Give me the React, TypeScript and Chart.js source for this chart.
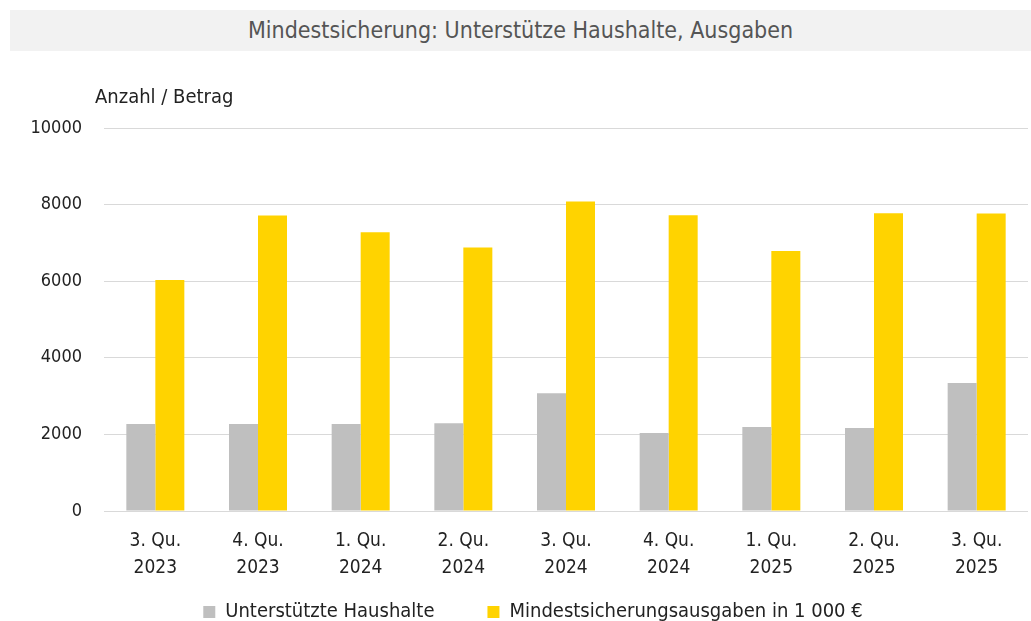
import React, { useEffect, useRef } from "react";
import { Chart, registerables } from "chart.js";

Chart.register(...registerables);

const categories: string[][] = [
  ["3. Qu.", "2023"],
  ["4. Qu.", "2023"],
  ["1. Qu.", "2024"],
  ["2. Qu.", "2024"],
  ["3. Qu.", "2024"],
  ["4. Qu.", "2024"],
  ["1. Qu.", "2025"],
  ["2. Qu.", "2025"],
  ["3. Qu.", "2025"],
];
const haushalte: number[] = [2270, 2270, 2270, 2290, 3075, 2035, 2190, 2165, 3345];
const ausgaben: number[] = [6030, 7715, 7280, 6880, 8080, 7720, 6790, 7775, 7765];
const seriesNames: string[] = ["Unterstützte Haushalte", "Mindestsicherungsausgaben in 1 000 €"];
const titleText = "Mindestsicherung: Unterstütze Haushalte, Ausgaben";
const yAxisTitle = "Anzahl / Betrag";

const FONT = "'DejaVu Sans Condensed', 'Roboto', sans-serif";

const legendShift = {
  id: "legendShift",
  afterLayout(chart: any) {
    const l = chart.legend;
    if (!l) return;
    const h = l.height;
    l.top = 549;
    l.bottom = 549 + h;
    l.left += 19;
    l.right += 19;
  },
};

export default function App() {
  const ref = useRef<HTMLCanvasElement | null>(null);
  useEffect(() => {
    if (!ref.current) return;
    const chart = new Chart(ref.current, {
      type: "bar",
      data: {
        labels: categories,
        datasets: [
          { label: seriesNames[0], data: haushalte, backgroundColor: "#bfbfbf", borderWidth: 0 },
          { label: seriesNames[1], data: ausgaben, backgroundColor: "#ffd300", borderWidth: 0 },
        ],
      },
      plugins: [legendShift],
      options: {
        animation: false,
        responsive: true,
        maintainAspectRatio: false,
        datasets: { bar: { categoryPercentage: 0.565, barPercentage: 1 } },
        layout: { padding: { top: 128, left: 0, right: 3, bottom: 0 } },
        plugins: {
          tooltip: { enabled: false },
          title: { display: false },
          legend: {
            position: "bottom",
            align: "center",
            labels: {
              boxWidth: 12,
              boxHeight: 12,
              padding: 53,
              color: "#222",
              font: { family: FONT, size: 20 },
            },
          },
        },
        scales: {
          x: {
            grid: { display: false, drawTicks: false },
            border: { display: false },
            ticks: {
              color: "#222",
              padding: 16,
              maxRotation: 0,
              autoSkip: false,
              font: { family: FONT, size: 19, lineHeight: 1.45 },
            },
            afterFit: (s: any) => {
              s.height = 75;
            },
          },
          y: {
            min: 0,
            max: 10000,
            ticks: {
              stepSize: 2000,
              color: "#222",
              padding: 22,
              font: { family: FONT, size: 18 },
              callback: (v: any) => String(v),
            },
            grid: { color: "#d9d9d9", lineWidth: 1, drawTicks: false },
            border: { display: false },
            afterFit: (s: any) => {
              s.width = 104;
            },
          },
        },
      },
    });
    return () => chart.destroy();
  }, []);

  return (
    <div
      style={{
        position: "absolute",
        left: 0,
        top: 0,
        width: 1031,
        height: 621,
        overflow: "hidden",
        background: "#fff",
        fontFamily: FONT,
      }}
    >
      <div style={{ position: "absolute", left: 0, top: 0, width: 1031, height: 669 }}>
        <canvas ref={ref} />
      </div>
      <div
        style={{
          position: "absolute",
          left: 10,
          top: 10,
          width: 1021,
          height: 41,
          background: "#f2f2f2",
          color: "#555",
          fontSize: 23,
          lineHeight: "41px",
          textAlign: "center",
        }}
      >
        {titleText}
      </div>
      <div
        style={{
          position: "absolute",
          left: 95,
          top: 84,
          color: "#222",
          fontSize: 20,
          lineHeight: "24px",
        }}
      >
        {yAxisTitle}
      </div>
    </div>
  );
}
